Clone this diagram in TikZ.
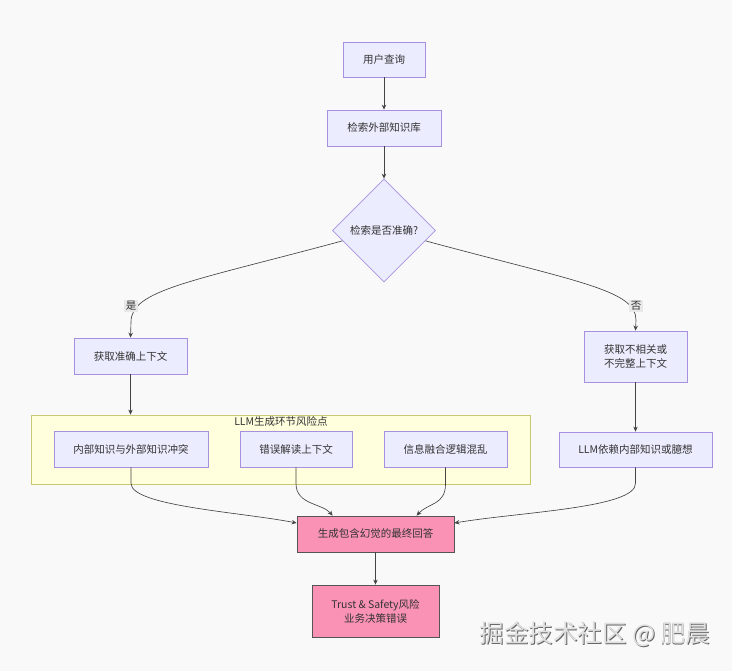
\documentclass[tikz,border=0pt]{standalone}
\usepackage{fontspec}
\setmainfont{Noto Sans CJK SC}
\usetikzlibrary{shapes.geometric,arrows.meta,calc}
\definecolor{bg}{HTML}{F9F9F9}
\definecolor{nodefill}{HTML}{ECECFF}
\definecolor{nodedraw}{HTML}{A890E0}
\definecolor{sgfill}{HTML}{FFFFDE}
\definecolor{sgdraw}{HTML}{C8C870}
\definecolor{pinkfill}{HTML}{F992B5}
\definecolor{pinkdraw}{HTML}{555555}
\definecolor{edge}{HTML}{444444}
\definecolor{txt}{HTML}{333333}
\begin{document}
\begin{tikzpicture}[x=1pt,y=-1pt,
  every node/.style={font=\fontsize{10.5}{14}\selectfont, text=txt},
  box/.style={draw=nodedraw, fill=nodefill, line width=0.8pt, rectangle, inner sep=0pt, align=center},
  pinkbox/.style={draw=pinkdraw, fill=pinkfill, line width=0.8pt, rectangle, inner sep=0pt, align=center},
  decision/.style={draw=nodedraw, fill=nodefill, line width=0.8pt, diamond, aspect=1, inner sep=0pt, minimum width=103pt, minimum height=103pt},
  conn/.style={draw=edge, line width=0.65pt, -{Stealth[length=5pt,width=4.5pt]}},
  elabel/.style={fill=black!9, inner sep=1.5pt}
]
\fill[bg] (0,0) rectangle (732,671);
\useasboundingbox (0,0) rectangle (732,671);

% subgraph
\node[draw=sgdraw, fill=sgfill, line width=0.8pt, rectangle, minimum width=499pt, minimum height=69pt, inner sep=0pt] (sg) at (280.5,449.5) {};
\node (sgtitle) at (281,422) {LLM生成环节风险点};

% nodes
\node[box, minimum width=82pt, minimum height=35pt] (q) at (384,59.5) {用户查询};
\node[box, minimum width=114pt, minimum height=36pt] (ret) at (384,128) {检索外部知识库};
\node[decision] (dia) at (384,230.5) {检索是否准确?};
\node[box, minimum width=113pt, minimum height=36pt] (acc) at (130.5,356) {获取准确上下文};
\node[box, minimum width=103pt, minimum height=51pt] (irr) at (635.5,356.5) {获取不相关或\\不完整上下文};
\node[box, minimum width=154pt, minimum height=36pt] (r1) at (131,449) {内部知识与外部知识冲突};
\node[box, minimum width=112pt, minimum height=36pt] (r2) at (296,449) {错误解读上下文};
\node[box, minimum width=123pt, minimum height=36pt] (r3) at (445.5,449) {信息融合逻辑混乱};
\node[box, minimum width=153pt, minimum height=35pt] (llm) at (635.5,449.5) {LLM依赖内部知识或臆想};
\node[pinkbox, minimum width=157pt, minimum height=36pt] (gen) at (375.5,534) {生成包含幻觉的最终回答};
\node[pinkbox, minimum width=127pt, minimum height=52pt] (ts) at (375.5,611) {Trust \& Safety风险\\业务决策错误};

% edges
\draw[conn] (q) -- (ret);
\draw[conn] (ret) -- (dia);
\draw[conn] ($(dia.west)!0.2!(dia.south)$) .. controls (190,282) and (131,290) .. (131,322) -- (acc.north);
\node[elabel] (yes) at (131,306) {是};
\draw[conn] ($(dia.east)!0.2!(dia.south)$) .. controls (578,282) and (636,290) .. (636,320) -- (irr.north);
\node[elabel] (no) at (636,306) {否};
\draw[conn] (acc) -- (acc.south |- sg.north);
\draw[conn] (irr) -- (llm);
\draw[conn] (r1.south) -- ++(0,16) .. controls (131,506) and (240,512) .. ($(gen.west)+(0,-11)$);
\draw[conn] (r2.south) -- ++(0,16) .. controls (296,505) and (322,503) .. ($(gen.north west)+(36,0)$);
\draw[conn] (r3.south) -- ++(0,16) .. controls (446,505) and (428,503) .. ($(gen.north west)+(120,0)$);
\draw[conn] (llm.south) -- ++(0,16) .. controls (636,508) and (520,512) .. ($(gen.east)+(0,-11)$);
\draw[conn] (gen) -- (ts);

% watermark
\node[font=\fontsize{24.5}{26}\selectfont, text=black!60] (wmshadow) at (595.8,634.8) {掘金技术社区 @ 肥晨};
\node[font=\fontsize{24.5}{26}\selectfont, text=black!12] (wm) at (595,634) {掘金技术社区 @ 肥晨};
\end{tikzpicture}
\end{document}
